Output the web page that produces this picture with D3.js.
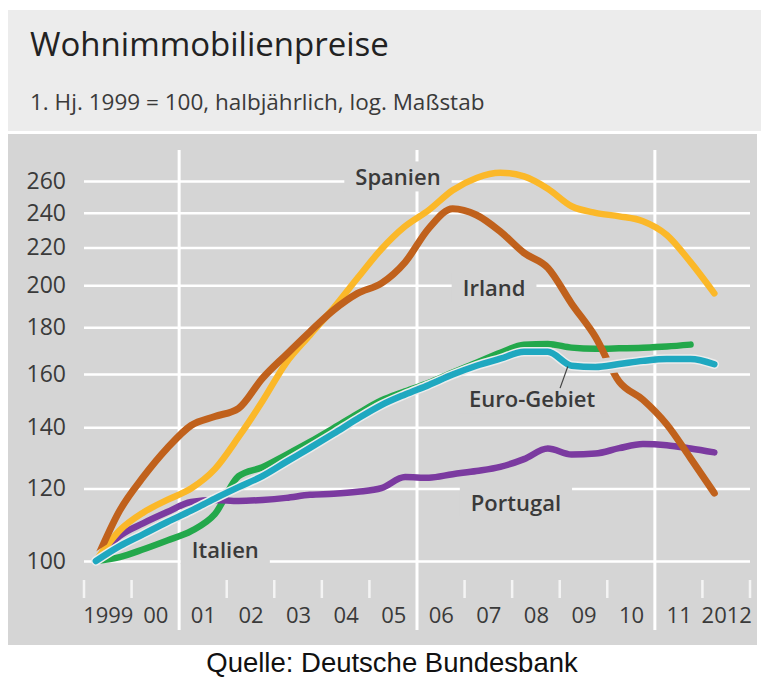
<!DOCTYPE html>
<html>
<head>
<meta charset="utf-8">
<script src="https://cdn.jsdelivr.net/npm/d3@7/dist/d3.min.js"></script>
<style>
  body { margin: 0; background: #ffffff; }
  svg { display: block; }
</style>
</head>
<body>
<svg id="chart" width="761" height="679"></svg>
<script>
// Half-year periods, 1st half 1999 to 1st half 2012
const periods = [
  "1999-1","1999-2","2000-1","2000-2","2001-1","2001-2","2002-1","2002-2",
  "2003-1","2003-2","2004-1","2004-2","2005-1","2005-2","2006-1","2006-2",
  "2007-1","2007-2","2008-1","2008-2","2009-1","2009-2","2010-1","2010-2",
  "2011-1","2011-2","2012-1"
];

// Index values, 1st half 1999 = 100
const spanien = [100, 108, 113, 116.6, 120, 126, 136.6, 149.4, 164.6, 176.5, 189, 203.7, 219, 232,
                 241.7, 254, 262, 265.5, 263, 255, 244, 240, 237.9, 235, 227, 212, 196];
const irland  = [100, 113.5, 123.6, 132.8, 140.6, 143.8, 146.8, 158.3, 168, 178, 188, 196, 201, 212,
                 230.9, 242.5, 238.7, 229, 217, 209, 191, 175.7, 157, 150, 141, 129.5, 118.6];
const euroGebiet = [100, 103.8, 107, 110.3, 113.5, 117, 120.4, 123.8, 128.3, 132.9, 137.8, 143, 148, 152,
                 155.7, 159.8, 163.4, 166.3, 169.2, 169.2, 163.4, 162.9, 164.1, 165.4, 166.2, 166.2, 164];
const italien = [100, 101, 103, 105.3, 107.8, 112.5, 123.8, 126.6, 130.6, 134.9, 139.7, 144.8, 149.7, 153.2,
                 156.5, 160.6, 164.6, 168.8, 172.2, 172.6, 171, 170.5, 170.7, 171, 171.5, 172.3];
const portugal = [100, 106.5, 110, 113.1, 116, 116.6, 116.3, 116.6, 117.2, 118.1, 118.4, 119, 120.1, 123.5,
                 123.3, 124.4, 125.4, 126.7, 129.2, 132.7, 130.7, 131, 132.8, 134.2, 133.8, 132.7, 131.4];

// Axis ticks and labels
const yTicks = [100, 120, 140, 160, 180, 200, 220, 240, 260];
const years = [1999, 2000, 2001, 2002, 2003, 2004, 2005, 2006, 2007, 2008, 2009, 2010, 2011, 2012];
const yearLabels = ["1999", "00", "01", "02", "03", "04", "05", "06", "07", "08", "09", "10", "11", "2012"];
const separatorYears = [2001, 2006, 2011];

const title = "Wohnimmobilienpreise";
const subtitle = "1. Hj. 1999 = 100, halbjährlich, log. Maßstab";
const source = "Quelle: Deutsche Bundesbank";

const seriesList = [
  { name: "Italien",     values: italien,    color: "#23a84b", label: { t: 2001.97, v: 103.0 } },
  { name: "Portugal",    values: portugal,   color: "#7b3aa0", label: { t: 2008.08, v: 116.0 } },
  { name: "Spanien",     values: spanien,    color: "#fbb829", label: { t: 2005.60, v: 263.0 } },
  { name: "Irland",      values: irland,     color: "#c0611c", label: { t: 2007.62, v: 199.0 } },
  { name: "Euro-Gebiet", values: euroGebiet, color: "#1fa8c0", label: { t: 2008.42, v: 150.6 } }
];

// period "YYYY-h" -> position in years (middle of the half year)
const periodTime = p => { const [yr, h] = p.split("-").map(Number); return yr + (h === 1 ? 0.25 : 0.75); };
const times = periods.map(periodTime);

const svg = d3.select("#chart");
const x = d3.scaleLinear().domain([1999, 2013]).range([84, 750]);
const y = d3.scaleLog().domain([100, 260]).range([561, 181]);

const FONT = "'Open Sans', 'Noto Sans', sans-serif";
const TEXT = "#3a3a3a";
const PANEL = "#d5d5d5";

// Header and plot backgrounds
svg.append("rect").attr("x", 8).attr("y", 10).attr("width", 753).attr("height", 121).attr("fill", "#ececec");
svg.append("rect").attr("x", 8).attr("y", 134).attr("width", 749).attr("height", 511).attr("fill", PANEL);

svg.append("text").attr("x", 30).attr("y", 56)
  .attr("font-family", FONT).attr("font-size", 33).attr("fill", "#222").text(title);
svg.append("text").attr("x", 30).attr("y", 110)
  .attr("font-family", FONT).attr("font-size", 22.5)
  .attr("fill", TEXT).text(subtitle);

// Horizontal grid + y labels
const yAxis = d3.axisLeft(y).tickValues(yTicks).tickFormat(d3.format("d"))
  .tickSize(-(x.range()[1] - x.range()[0])).tickPadding(18);
const gy = svg.append("g").attr("transform", `translate(${x.range()[0]},0)`).call(yAxis);
gy.select(".domain").remove();
gy.selectAll(".tick line").attr("stroke", "#ffffff").attr("stroke-width", 2.5);
gy.selectAll(".tick text").attr("font-family", FONT).attr("font-size", 23).attr("fill", TEXT);

// Vertical separators
svg.append("g").selectAll("line").data(separatorYears).join("line")
  .attr("x1", d => x(d)).attr("x2", d => x(d)).attr("y1", 150).attr("y2", 630)
  .attr("stroke", "#ffffff").attr("stroke-width", 3);

// Small year ticks
const tickYears = d3.range(1999, 2014).filter(d => !separatorYears.includes(d));
svg.append("g").selectAll("line").data(tickYears).join("line")
  .attr("x1", d => x(d)).attr("x2", d => x(d)).attr("y1", 580).attr("y2", 598)
  .attr("stroke", "#f4f4f4").attr("stroke-width", 2.5);

// Year labels
const xAxis = d3.axisBottom(x).tickValues(years.map(d => d + 0.5))
  .tickFormat((d, i) => yearLabels[i]).tickSize(0).tickPadding(0);
const gx = svg.append("g").attr("transform", "translate(0,607)").call(xAxis);
gx.select(".domain").remove();
gx.selectAll(".tick text").attr("font-family", FONT).attr("font-size", 22).attr("fill", TEXT);

// Layers
const boxLayer = svg.append("g");
const lineLayer = svg.append("g");
const labelLayer = svg.append("g");

const line = d3.line().x((d, i) => x(times[i])).y(d => y(d)).curve(d3.curveMonotoneX);
const euro = seriesList.find(s => s.name === "Euro-Gebiet");

// Mask that opens a gap in the Irland line where the Euro-Gebiet line crosses it
const defs = svg.append("defs");
const mask = defs.append("mask").attr("id", "euro-gap").attr("maskUnits", "userSpaceOnUse")
  .attr("x", 0).attr("y", 0).attr("width", 761).attr("height", 679);
mask.append("rect").attr("width", 761).attr("height", 679).attr("fill", "#fff");
mask.append("path").attr("d", line(euro.values)).attr("fill", "none")
  .attr("stroke", "#000").attr("stroke-width", 16).attr("stroke-linecap", "round");

seriesList.forEach(s => {
  if (s.name === "Euro-Gebiet") {
    lineLayer.append("path").attr("d", line(s.values)).attr("fill", "none")
      .attr("stroke", "#ececec").attr("stroke-width", 9.5)
      .attr("stroke-linecap", "round").attr("stroke-linejoin", "round");
  }
  const p = lineLayer.append("path").attr("d", line(s.values)).attr("fill", "none")
    .attr("stroke", s.color).attr("stroke-width", s.name === "Irland" ? 7 : 6.5)
    .attr("stroke-linecap", "round").attr("stroke-linejoin", "round");
  if (s.name === "Irland") p.attr("mask", "url(#euro-gap)");
});

// Series labels with panel-coloured boxes that interrupt the grid
seriesList.forEach(s => {
  const t = labelLayer.append("text")
    .attr("x", x(s.label.t)).attr("y", y(s.label.v))
    .attr("text-anchor", "middle").attr("dominant-baseline", "central")
    .attr("font-family", FONT).attr("font-weight", 600).attr("font-size", 22)
    .attr("fill", TEXT).text(s.name);
  const b = t.node().getBBox();
  boxLayer.append("rect").attr("x", b.x - 11).attr("y", b.y).attr("width", b.width + 22)
    .attr("height", b.height).attr("fill", PANEL);
  s.bbox = b;
});

// Leader from the Euro-Gebiet label to its line
const euroAt = d3.scaleLinear().domain(times).range(euro.values);
const leaderT = 2009.17;
labelLayer.append("line")
  .attr("x1", euro.bbox.x + euro.bbox.width * 0.72).attr("y1", euro.bbox.y + 5)
  .attr("x2", x(leaderT)).attr("y2", y(euroAt(leaderT)) + 3)
  .attr("stroke", "#444").attr("stroke-width", 1.2);

// Source
svg.append("text").attr("x", 392).attr("y", 672).attr("text-anchor", "middle")
  .attr("font-family", "'Liberation Sans', Arial, sans-serif").attr("font-size", 27.5)
  .attr("fill", "#111").text(source);
</script>
</body>
</html>
